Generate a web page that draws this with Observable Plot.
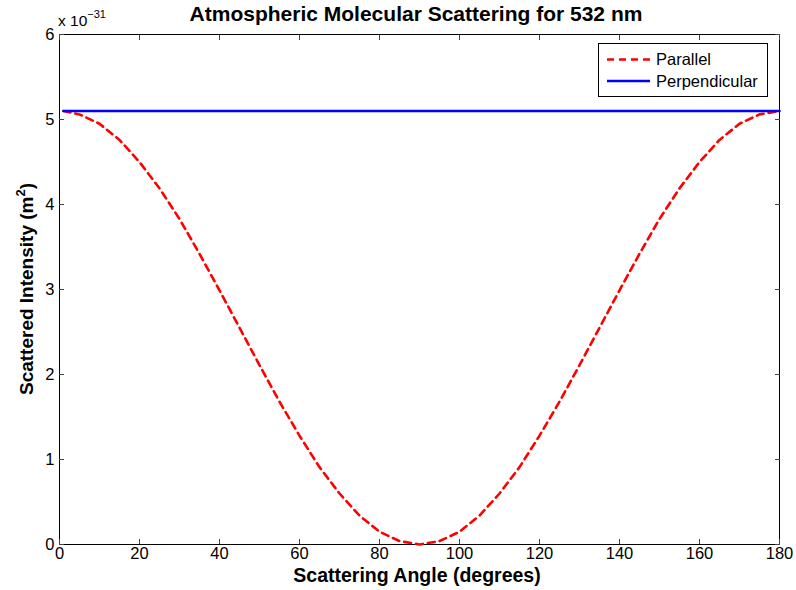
<!DOCTYPE html>
<html><head><meta charset="utf-8">
<script src="https://cdn.jsdelivr.net/npm/d3@7"></script>
<script src="https://cdn.jsdelivr.net/npm/@observablehq/plot@0.6"></script>
<style>body{margin:0;background:#fff} svg{display:block}</style>
</head><body><div id="chart"></div>
<script>
// Scattering angle (degrees)
const angles = [1,5,10,15,20,25,30,35,40,45,50,55,60,65,70,75,80,85,90,95,100,105,110,115,120,125,130,135,140,145,150,155,160,165,170,175,180];
// Parallel intensity (x 1e-31 m^2)
const parallel = [5.10,5.06,4.95,4.76,4.50,4.19,3.83,3.42,2.99,2.55,2.11,1.68,1.28,0.91,0.60,0.34,0.15,0.04,0.00,0.04,0.15,0.34,0.60,0.91,1.28,1.68,2.11,2.55,2.99,3.42,3.83,4.19,4.50,4.76,4.95,5.06,5.10];
// Perpendicular intensity (x 1e-31 m^2)
const perpAngles = [1,180];
const perpendicular = [5.10,5.10];
const xTicks = [0,20,40,60,80,100,120,140,160,180];
const yTicks = [0,1,2,3,4,5,6];

const parData = angles.map((a,i)=>({angle:a, value:parallel[i]}));
const perpData = perpAngles.map((a,i)=>({angle:a, value:perpendicular[i]}));

const W = 796, H = 590;
const font = "Liberation Sans, Arial, Helvetica, sans-serif";
const fmt = d => String(d);

const chart = Plot.plot({
  width: W, height: H,
  marginLeft: 59, marginRight: 17, marginTop: 34, marginBottom: 46,
  style: {fontFamily: font, fontSize: "16.5px", color: "black", background: "white"},
  x: {domain: [0,180]},
  y: {domain: [0,6]},
  marks: [
    Plot.frame({stroke: "black", strokeWidth: 1}),
    Plot.axisX(xTicks, {anchor: "bottom", tickSize: 0, tickPadding: 3, label: null, fontSize: 16.5, tickFormat: fmt}),
    Plot.axisX(xTicks, {anchor: "bottom", tickSize: -5, text: null, label: null, stroke: "#444"}),
    Plot.axisX(xTicks, {anchor: "top", tickSize: -5, text: null, label: null, stroke: "#444"}),
    Plot.axisY(yTicks, {anchor: "left", tickSize: 0, tickPadding: 5, label: null, fontSize: 16.5, tickFormat: fmt}),
    Plot.axisY(yTicks, {anchor: "left", tickSize: -5, text: null, label: null, stroke: "#444"}),
    Plot.axisY(yTicks, {anchor: "right", tickSize: -5, text: null, label: null, stroke: "#444"}),
    Plot.line(parData, {x: "angle", y: "value", stroke: "#ff0000", strokeWidth: 2.6, strokeDasharray: "7,5"}),
    Plot.line(perpData, {x: "angle", y: "value", stroke: "#0000ff", strokeWidth: 2.6})
  ]
});

const svg = d3.select(chart);
// Title
svg.append("text").attr("x", 416).attr("y", 21).attr("text-anchor", "middle")
  .attr("font-family", font).attr("font-weight", "bold").attr("font-size", 21)
  .text("Atmospheric Molecular Scattering for 532 nm");
// X label
svg.append("text").attr("x", 417).attr("y", 582).attr("text-anchor", "middle")
  .attr("font-family", font).attr("font-weight", "bold").attr("font-size", 19.5)
  .text("Scattering Angle (degrees)");
// Y label
const yl = svg.append("text").attr("transform", "translate(33,289) rotate(-90)").attr("text-anchor", "middle")
  .attr("font-family", font).attr("font-weight", "bold").attr("font-size", 19);
yl.append("tspan").text("Scattered Intensity (m");
yl.append("tspan").attr("font-size", 13).attr("dy", -8).text("2");
yl.append("tspan").attr("dy", 8).text(")");
// Exponent
const ex = svg.append("text").attr("x", 58).attr("y", 26).attr("text-anchor", "start")
  .attr("font-family", font).attr("font-size", 15.5);
ex.append("tspan").text("x 10");
ex.append("tspan").attr("font-size", 11).attr("dy", -8).text("\u221231");
// Legend
const lg = svg.append("g");
lg.append("rect").attr("x", 598.5).attr("y", 43.5).attr("width", 169).attr("height", 53)
  .attr("fill", "white").attr("stroke", "black");
lg.append("line").attr("x1", 607).attr("x2", 650).attr("y1", 59.5).attr("y2", 59.5)
  .attr("stroke", "#ff0000").attr("stroke-width", 2.6).attr("stroke-dasharray", "7,5");
lg.append("line").attr("x1", 607).attr("x2", 650).attr("y1", 81).attr("y2", 81)
  .attr("stroke", "#0000ff").attr("stroke-width", 2.6);
lg.append("text").attr("x", 656).attr("y", 65).attr("text-anchor", "start").attr("font-family", font).attr("font-size", 16.5).text("Parallel");
lg.append("text").attr("x", 656).attr("y", 87).attr("text-anchor", "start").attr("font-family", font).attr("font-size", 16.5).text("Perpendicular");

document.getElementById("chart").appendChild(chart);
</script>
</body></html>
